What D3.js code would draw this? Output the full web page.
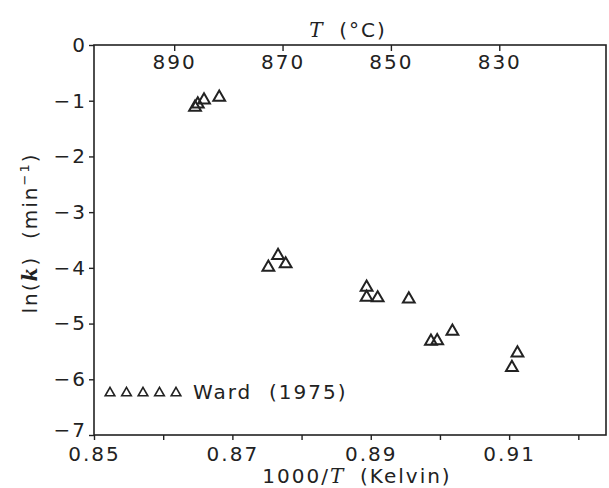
<!DOCTYPE html>
<html>
<head>
<meta charset="utf-8">
<script src="https://cdn.jsdelivr.net/npm/d3@7"></script>
<style>
  body { margin: 0; background: #fff; }
  text { font-family: "DejaVu Sans", sans-serif; fill: #222; }
</style>
</head>
<body>
<svg class="chart"></svg>
<script>
// Ward (1975) rate constants
var invT = [0.8646, 0.8650, 0.8659, 0.8681,
            0.8752, 0.8766, 0.8777,
            0.8894, 0.8894, 0.8910, 0.8955,
            0.8987, 0.8996, 0.9018, 0.9104, 0.9112];
var lnK = [-1.12, -1.06, -0.99, -0.94,
           -3.99, -3.78, -3.93,
           -4.35, -4.53, -4.54, -4.56,
           -5.32, -5.31, -5.14, -5.79, -5.53];

var xTicks = [0.85, 0.86, 0.87, 0.88, 0.89, 0.90, 0.91, 0.92];
var xLabels = [0.85, 0.87, 0.89, 0.91];
var yTicks = [0, -1, -2, -3, -4, -5, -6, -7];
var tTicks = [890, 870, 850, 830];
var legendLabel = "Ward  (1975)";

var screen = { //the size of svg
  width: 609,
  height: 488
}

var margins = {
  left: 94,
  top: 45,
  right: 3,
  bottom: 53
}

var svg = d3.select(".chart")
            .attr("width", screen.width)
            .attr("height", screen.height);

var xScale = d3.scaleLinear()
               .domain([0.85, 0.924])
               .range([margins.left, screen.width - margins.right]);

var yScale = d3.scaleLinear()
               .domain([-7, 0])
               .range([screen.height - margins.bottom, margins.top]);

// top axis in celsius, placed to line up with the printed ticks
var tScale = d3.scaleLinear()
               .domain([904.8, 810.3])
               .range([margins.left, screen.width - margins.right]);

var fontSize = 20;

//bottom axis
var xAxis = d3.axisBottom(xScale)
              .tickValues(xTicks)
              .tickSize(5)
              .tickSizeOuter(0)
              .tickPadding(7)
              .tickFormat(function(d) {
                return xLabels.some(function(v) {return Math.abs(v - d) < 1e-6;}) ? d3.format(".2f")(d) : "";
              });

svg.append("g")
   .classed("xAxis", true)
   .attr("transform", "translate(0," + yScale(-7) + ")")
   .call(xAxis);

//left axis
var yAxis = d3.axisLeft(yScale)
              .tickValues(yTicks)
              .tickSize(5)
              .tickSizeOuter(0)
              .tickPadding(2)
              .tickFormat(d3.format("d"));

svg.append("g")
   .classed("yAxis", true)
   .attr("transform", "translate(" + margins.left + ",0)")
   .call(yAxis);

// lift the bottom label a little so it clears 0.85
svg.select(".yAxis")
   .selectAll(".tick text")
   .filter(function(d) {return d === -7;})
   .attr("y", -5);

//top axis, ticks and labels inside the frame
var tAxis = d3.axisBottom(tScale)
              .tickValues(tTicks)
              .tickSize(6)
              .tickSizeOuter(0)
              .tickPadding(4)
              .tickFormat(d3.format("d"));

svg.append("g")
   .classed("tAxis", true)
   .attr("transform", "translate(0," + yScale(0) + ")")
   .call(tAxis);

svg.selectAll(".domain").remove();
svg.selectAll(".tick line").attr("stroke", "#222").attr("stroke-width", 1.4);
svg.selectAll(".tick text")
   .style("font-family", "DejaVu Sans, sans-serif")
   .style("font-size", fontSize + "px")
   .style("letter-spacing", "2px")
   .attr("fill", "#222");

//frame
svg.append("rect")
   .attr("x", xScale.range()[0])
   .attr("y", yScale.range()[1])
   .attr("width", xScale.range()[1] - xScale.range()[0])
   .attr("height", yScale.range()[0] - yScale.range()[1])
   .attr("fill", "none")
   .attr("stroke", "#222")
   .attr("stroke-width", 1.6);

//points
var points = invT.map(function(d, i) {return {x: d, y: lnK[i]};});

svg.append("g")
   .classed("points", true)
   .selectAll("path")
   .data(points)
   .enter()
   .append("path")
   .attr("d", d3.symbol(d3.symbolTriangle, 60))
   .attr("transform", function(d) {return "translate(" + xScale(d.x) + "," + yScale(d.y) + ")";})
   .attr("fill", "none")
   .attr("stroke", "#222")
   .attr("stroke-width", 2);

//legend
var legendX = d3.scaleLinear().domain([0, 4]).range([110, 176]);

svg.append("g")
   .classed("legend", true)
   .selectAll("path")
   .data(d3.range(5))
   .enter()
   .append("path")
   .attr("d", d3.symbol(d3.symbolTriangle, 40))
   .attr("transform", function(d) {return "translate(" + legendX(d) + ",393)";})
   .attr("fill", "none")
   .attr("stroke", "#222")
   .attr("stroke-width", 1.6);

svg.append("text")
   .attr("x", 193)
   .attr("y", 399)
   .style("font-size", fontSize + "px")
   .style("letter-spacing", "2px")
   .style("white-space", "pre")
   .text(legendLabel);

//axis titles
var topTitle = svg.append("text")
   .attr("x", 348)
   .attr("y", 37)
   .attr("text-anchor", "middle")
   .style("font-size", fontSize + "px")
   .style("white-space", "pre");
topTitle.append("tspan").style("font-family", "DejaVu Serif, serif").style("font-style", "italic").text("T");
topTitle.append("tspan").style("letter-spacing", "2px").text("  (°C)");

var bottomTitle = svg.append("text")
   .attr("x", 357)
   .attr("y", 483)
   .attr("text-anchor", "middle")
   .style("font-size", fontSize + "px")
   .style("white-space", "pre");
bottomTitle.append("tspan").style("letter-spacing", "2px").text("1000/");
bottomTitle.append("tspan").style("font-family", "DejaVu Serif, serif").style("font-style", "italic").text("T");
bottomTitle.append("tspan").style("letter-spacing", "2px").text("  (Kelvin)");

var leftTitle = svg.append("text")
   .attr("transform", "translate(37,233) rotate(-90)")
   .attr("text-anchor", "middle")
   .style("font-size", fontSize + "px")
   .style("letter-spacing", "2px")
   .style("white-space", "pre");
leftTitle.append("tspan").text("ln(");
leftTitle.append("tspan").style("font-family", "DejaVu Serif, serif").style("font-style", "italic").style("font-weight", "bold").text("k");
leftTitle.append("tspan").text(")  (min");
leftTitle.append("tspan").attr("dy", -8).style("font-size", "13px").text("−1");
leftTitle.append("tspan").attr("dy", 8).text(")");
</script>
</body>
</html>
